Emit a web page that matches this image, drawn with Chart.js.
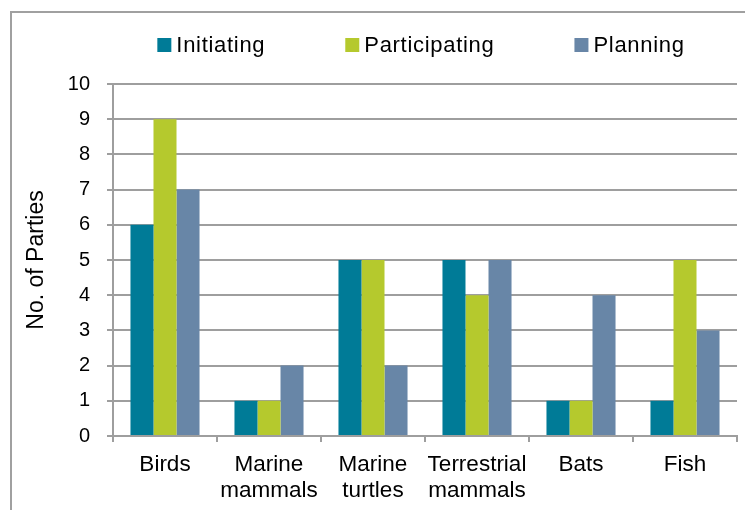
<!DOCTYPE html>
<html>
<head>
<meta charset="utf-8">
<script src="https://cdn.jsdelivr.net/npm/chart.js@4/dist/chart.umd.min.js"></script>
<style>
  html, body { margin: 0; padding: 0; background: #fff; overflow: hidden; }
  #wrap { position: relative; width: 745px; height: 510px; overflow: hidden; }
  #frame { position: absolute; left: 10px; top: 11px; width: 900px; height: 700px;
           border-left: 2px solid #a0a0a0; border-top: 2px solid #a0a0a0; box-sizing: border-box; }
  canvas { position: absolute; left: 0; top: 0; }
</style>
</head>
<body>
<div id="wrap">
  <div id="frame"></div>
  <canvas id="chart" width="745" height="510"></canvas>
</div>
<script>
// Species groups and number of parties in each role
const categories = [
  ['Birds'],
  ['Marine', 'mammals'],
  ['Marine', 'turtles'],
  ['Terrestrial', 'mammals'],
  ['Bats'],
  ['Fish']
];
const initiating    = [6, 1, 5, 5, 1, 1];
const participating = [9, 1, 5, 4, 1, 5];
const planning      = [7, 2, 2, 5, 4, 3];
const seriesNames   = ['Initiating', 'Participating', 'Planning'];
const seriesColors  = ['#007b97', '#b5c92d', '#6886a7'];
const yTicks        = [0, 1, 2, 3, 4, 5, 6, 7, 8, 9, 10];

const FONT = "'Liberation Sans', Arial, sans-serif";
const GRID = '#9e9e9e';

// Legend drawn in a row above the plot area
const topLegend = {
  id: 'topLegend',
  afterDraw(chart) {
    const ctx = chart.ctx;
    const box = 14, gapText = 5, gapItem = 80, cy = 45;
    ctx.save();
    ctx.font = '22px ' + FONT;
    ctx.letterSpacing = '0.7px';
    ctx.textBaseline = 'middle';
    const items = chart.data.datasets.map(ds => ({
      text: ds.label, color: ds.backgroundColor, w: ctx.measureText(ds.label).width
    }));
    const total = items.reduce((s, it) => s + box + gapText + it.w, 0) + gapItem * (items.length - 1);
    const center = (chart.chartArea.left + chart.chartArea.right) / 2 - 4;
    let x = center - total / 2;
    items.forEach(it => {
      ctx.fillStyle = it.color;
      ctx.fillRect(x, cy - box / 2, box, box);
      ctx.fillStyle = '#000';
      ctx.fillText(it.text, x + box + gapText, cy + 1);
      x += box + gapText + it.w + gapItem;
    });
    ctx.restore();
  }
};

const seriesData = [initiating, participating, planning];

new Chart(document.getElementById('chart'), {
  type: 'bar',
  data: {
    labels: categories,
    datasets: seriesNames.map((name, i) => ({
      label: name,
      data: seriesData[i],
      backgroundColor: seriesColors[i],
      borderWidth: 0,
      categoryPercentage: 0.664,
      barPercentage: 1.0
    }))
  },
  options: {
    responsive: false,
    animation: false,
    devicePixelRatio: 1,
    layout: { padding: { left: 0, right: 8, top: 84, bottom: 0 } },
    plugins: {
      legend: { display: false },
      tooltip: { enabled: false }
    },
    scales: {
      x: {
        offset: true,
        afterFit(scale) { scale.height = 74; },
        grid: {
          offset: true,
          drawOnChartArea: false,
          drawTicks: true,
          tickLength: 6,
          color: GRID,
          lineWidth: 2
        },
        border: { display: true, color: GRID, width: 2 },
        ticks: {
          padding: 10,
          color: '#000',
          font: { family: FONT, size: 22.5, lineHeight: 1.16 },
          maxRotation: 0,
          autoSkip: false
        }
      },
      y: {
        min: 0,
        max: 10,
        afterFit(scale) { scale.width = 113; },
        afterBuildTicks(scale) { scale.ticks = yTicks.map(v => ({ value: v })); },
        grid: {
          color: GRID,
          lineWidth: 2,
          drawTicks: true,
          tickLength: 6
        },
        border: { display: true, color: GRID, width: 2 },
        ticks: {
          padding: 17,
          color: '#000',
          font: { family: FONT, size: 20 }
        },
        title: {
          display: true,
          text: 'No. of Parties',
          color: '#000',
          font: { family: FONT, size: 23 },
          padding: { top: 23, bottom: 10 }
        }
      }
    }
  },
  plugins: [topLegend]
});
</script>
</body>
</html>
